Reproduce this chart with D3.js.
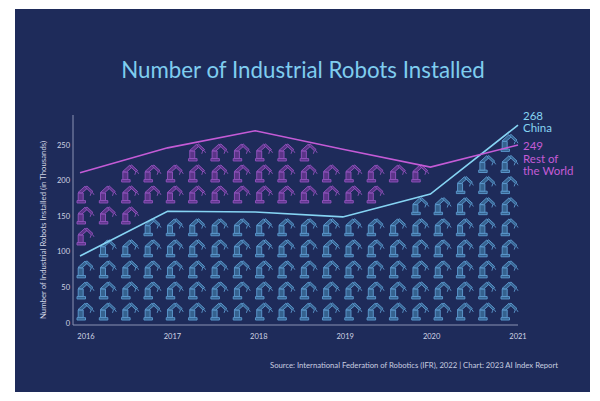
<!DOCTYPE html>
<html>
<head>
<meta charset="utf-8">
<script src="https://cdn.jsdelivr.net/npm/d3@7"></script>
<style>
  body { margin: 0; background: #fff; overflow: hidden; }
  text { font-family: Lato, "Open Sans", sans-serif; }
</style>
</head>
<body>
<div id="chart"></div>
<script>
const years = [2016, 2017, 2018, 2019, 2020, 2021]
const china = [94, 157, 156, 149, 181, 278]
const restOfWorld = [211, 246, 270, 244, 219, 250]
const yTicks = [0, 50, 100, 150, 200, 250]
const endValues = [268, 249]
const seriesNames = [['China'], ['Rest of', 'the World']]

// pictogram rows, bottom to top: [first column, last column]
const chinaIconRows = [[0, 19], [0, 19], [0, 19], [1, 19], [3, 19], [15, 19], [17, 19], [18, 19], [19, 19]]
const restIconRows = [[0, 0], [0, 2], [0, 13], [2, 15], [5, 10]]

const width = 600
const height = 401

const svg = d3.select('#chart')
  .append('svg')
  .attr('width', width)
  .attr('height', height)

svg.append('rect')
  .attr('x', 15).attr('y', 9)
  .attr('width', 575).attr('height', 383)
  .attr('fill', '#1e2b5a')

const x = d3.scalePoint().domain(years).range([80, 518])
const xLabel = d3.scalePoint().domain(years).range([86, 518])
const y = d3.scaleLinear().domain([0, 250]).range([323, 145])
const col = d3.scaleLinear().domain([0, 19]).range([85, 509])

// title
svg.append('text')
  .attr('x', 303)
  .attr('y', 78)
  .attr('text-anchor', 'middle')
  .attr('fill', '#7fcdef')
  .style('font-size', '22.3px')
  .text('Number of Industrial Robots Installed')

// robot icon
const defs = svg.append('defs')
const robot = defs.append('g').attr('id', 'robot')
robot.append('rect').attr('x', -8).attr('y', 5.6).attr('width', 8.5).attr('height', 2.4)
robot.append('rect').attr('x', -6.8).attr('y', -2).attr('width', 5).attr('height', 7.6)
robot.append('path').attr('d', 'M-7,-2.4 L0,-8.8 L2.2,-6.6 L-3,-2 Z')
robot.append('path').attr('d', 'M0.4,-7.8 L2,-9 L8,-3.4 L6.4,-2 Z')
robot.append('path').attr('d', 'M6,-1.8 L5.2,0.8 M7.6,-2.4 L9,-0.2')
robot.selectAll('*')
  .attr('stroke-width', 0.9)
  .attr('stroke-linejoin', 'round')

function iconCells(rows, base, step) {
  const cells = []
  rows.forEach(([a, b], k) => {
    for (let j = a; j <= b; j++) cells.push({ j, v: base + step * k })
  })
  return cells
}

svg.append('g')
  .selectAll('use')
  .data(iconCells(chinaIconRows, 15.4, 29.6))
  .join('use')
  .attr('href', '#robot')
  .attr('transform', d => `translate(${col(d.j)},${y(d.v)})`)
  .attr('stroke', '#5e9bd0')
  .attr('fill', '#35628f')

svg.append('g')
  .selectAll('use')
  .data(iconCells(restIconRows, 120.8, 29.5))
  .join('use')
  .attr('href', '#robot')
  .attr('transform', d => `translate(${col(d.j)},${y(d.v)})`)
  .attr('stroke', '#9455c0')
  .attr('fill', '#5b3488')

// axes
const axisColor = '#8a93b3'
svg.append('line')
  .attr('x1', 73).attr('x2', 73)
  .attr('y1', 115).attr('y2', y(0) + 2)
  .attr('stroke', axisColor).attr('stroke-width', 1)
svg.append('line')
  .attr('x1', 73).attr('x2', x(2021))
  .attr('y1', y(0) + 2).attr('y2', y(0) + 2)
  .attr('stroke', axisColor).attr('stroke-width', 1)

svg.append('g')
  .selectAll('text')
  .data(yTicks)
  .join('text')
  .attr('x', 70)
  .attr('y', d => y(d))
  .attr('dy', '0.35em')
  .attr('text-anchor', 'end')
  .attr('fill', '#d0d4e4')
  .style('font-size', '7.5px')
  .text(d => d)

svg.append('g')
  .selectAll('text')
  .data(years)
  .join('text')
  .attr('x', d => xLabel(d))
  .attr('y', 336)
  .attr('dy', '0.35em')
  .attr('text-anchor', 'middle')
  .attr('fill', '#d0d4e4')
  .style('font-size', '7.5px')
  .text(d => d)

svg.append('text')
  .attr('transform', 'translate(46,230) rotate(-90)')
  .attr('text-anchor', 'middle')
  .attr('fill', '#d0d4e4')
  .style('font-size', '7.8px')
  .text('Number of Industrial Robots Installed (in Thousands)')

// lines
const line = d3.line()
  .x((d, i) => x(years[i]))
  .y(d => y(d))

const colors = ['#86d4f3', '#c45bd6']
;[china, restOfWorld].forEach((s, i) => {
  svg.append('path')
    .datum(s)
    .attr('d', line)
    .attr('fill', 'none')
    .attr('stroke', colors[i])
    .attr('stroke-width', 1.6)
})

// end labels
const labelTop = [119.5, 150]
endValues.forEach((v, i) => {
  const t = svg.append('text')
    .attr('x', 523)
    .attr('y', labelTop[i])
    .attr('fill', colors[i])
    .style('font-size', '11.5px')
  ;[String(v)].concat(seriesNames[i]).forEach((s, k) => {
    t.append('tspan')
      .attr('x', 523)
      .attr('dy', k === 0 ? 0 : 12.6)
      .text(s)
  })
})

// source
svg.append('text')
  .attr('x', 558)
  .attr('y', 368)
  .attr('text-anchor', 'end')
  .attr('fill', '#c9cee0')
  .style('font-size', '7.7px')
  .text('Source: International Federation of Robotics (IFR), 2022 | Chart: 2023 AI Index Report')
</script>
</body>
</html>
